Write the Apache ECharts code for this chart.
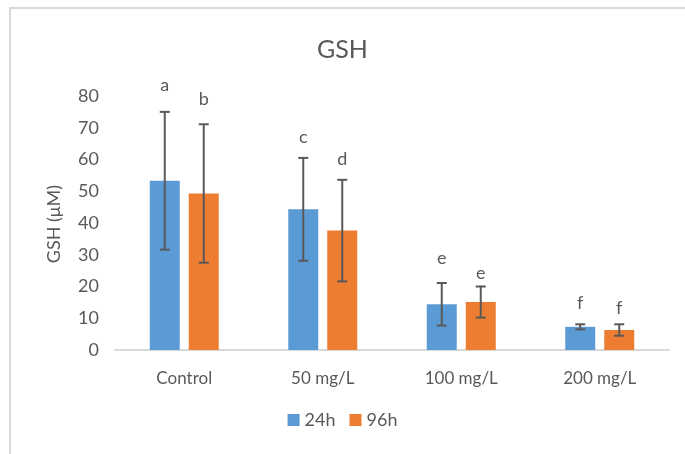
<!DOCTYPE html>
<html>
<head>
<meta charset="utf-8">
<script src="https://cdn.jsdelivr.net/npm/echarts@6/dist/echarts.min.js"></script>
<style>
  html, body { margin: 0; padding: 0; background: #fff; }
  #chart { width: 685px; height: 454px; }
</style>
</head>
<body>
<div id="chart"></div>
<script>
const categories = ['Control', '50 mg/L', '100 mg/L', '200 mg/L'];
const seriesNames = ['24h', '96h'];
const mean24 = [53.3, 44.3, 14.4, 7.3];
const sd24 = [21.7, 16.2, 6.7, 0.8];
const mean96 = [49.3, 37.6, 15.1, 6.3];
const sd96 = [21.8, 16.0, 4.9, 1.8];
const letters24 = ['a', 'c', 'e', 'f'];
const letters96 = ['b', 'd', 'e', 'f'];
const letterY24 = [83.5, 67.0, 29.0, 14.8];
const letterY96 = [79.0, 60.0, 24.3, 13.2];

const textColor = '#595959';
const font = 'Lato, "Open Sans", sans-serif';
const barW = 30;
const gap = 9;

const chart = echarts.init(document.getElementById('chart'));

function errorSeries(means, sds, letters, letterY, shift) {
  return {
    type: 'custom',
    clip: false,
    z: 10,
    data: means.map((m, i) => [i, m - sds[i], m + sds[i], letterY[i]]),
    renderItem: (params, api) => {
      const i = api.value(0);
      const lo = api.coord([i, api.value(1)]);
      const hi = api.coord([i, api.value(2)]);
      const lt = api.coord([i, api.value(3)]);
      const x = lo[0] + shift;
      const cap = 5;
      const st = { stroke: '#595959', lineWidth: 2 };
      return {
        type: 'group',
        children: [
          { type: 'line', shape: { x1: x, y1: lo[1], x2: x, y2: hi[1] }, style: st },
          { type: 'line', shape: { x1: x - cap, y1: lo[1], x2: x + cap, y2: lo[1] }, style: st },
          { type: 'line', shape: { x1: x - cap, y1: hi[1], x2: x + cap, y2: hi[1] }, style: st },
          { type: 'text', x: x, y: lt[1], style: {
              text: letters[params.dataIndex], fill: textColor, font: '18px ' + font,
              align: 'center', verticalAlign: 'middle' } }
        ]
      };
    }
  };
}

chart.setOption({
  animation: false,
  title: {
    text: 'GSH',
    left: 'center',
    top: 32,
    textStyle: { color: textColor, fontFamily: font, fontWeight: 'normal', fontSize: 25 }
  },
  graphic: [
    {
      type: 'rect',
      shape: { x: 10, y: 8, width: 700, height: 480 },
      style: { fill: 'none', stroke: '#d9d9d9', lineWidth: 2 }
    },
    {
      // y axis title
      type: 'text',
      left: 45,
      top: 185,
      rotation: Math.PI / 2,
      style: { text: 'GSH (μM)', fill: textColor, font: '18px ' + font }
    }
  ],
  legend: {
    bottom: 20,
    left: 'center',
    itemWidth: 12,
    itemHeight: 12,
    itemGap: 14,
    icon: 'rect',
    textStyle: { color: textColor, fontFamily: font, fontSize: 18 },
    data: seriesNames
  },
  grid: { left: 115, right: 16, top: 96, bottom: 104 },
  xAxis: {
    type: 'category',
    data: categories,
    axisTick: { show: false },
    axisLine: { lineStyle: { color: '#d9d9d9', width: 2 } },
    axisLabel: { color: textColor, fontFamily: font, fontSize: 17, margin: 20 }
  },
  yAxis: {
    type: 'value',
    min: 0,
    max: 80,
    interval: 10,
    splitLine: { show: false },
    axisLine: { show: false },
    axisTick: { show: false },
    axisLabel: { color: textColor, fontFamily: font, fontSize: 18, margin: 16 }
  },
  series: [
    { name: seriesNames[0], type: 'bar', data: mean24, barWidth: barW, barGap: (gap / barW * 100) + '%',
      itemStyle: { color: '#5B9BD5' } },
    { name: seriesNames[1], type: 'bar', data: mean96, barWidth: barW,
      itemStyle: { color: '#ED7D31' } },
    errorSeries(mean24, sd24, letters24, letterY24, -(barW + gap) / 2),
    errorSeries(mean96, sd96, letters96, letterY96, (barW + gap) / 2)
  ]
});
</script>
</body>
</html>
